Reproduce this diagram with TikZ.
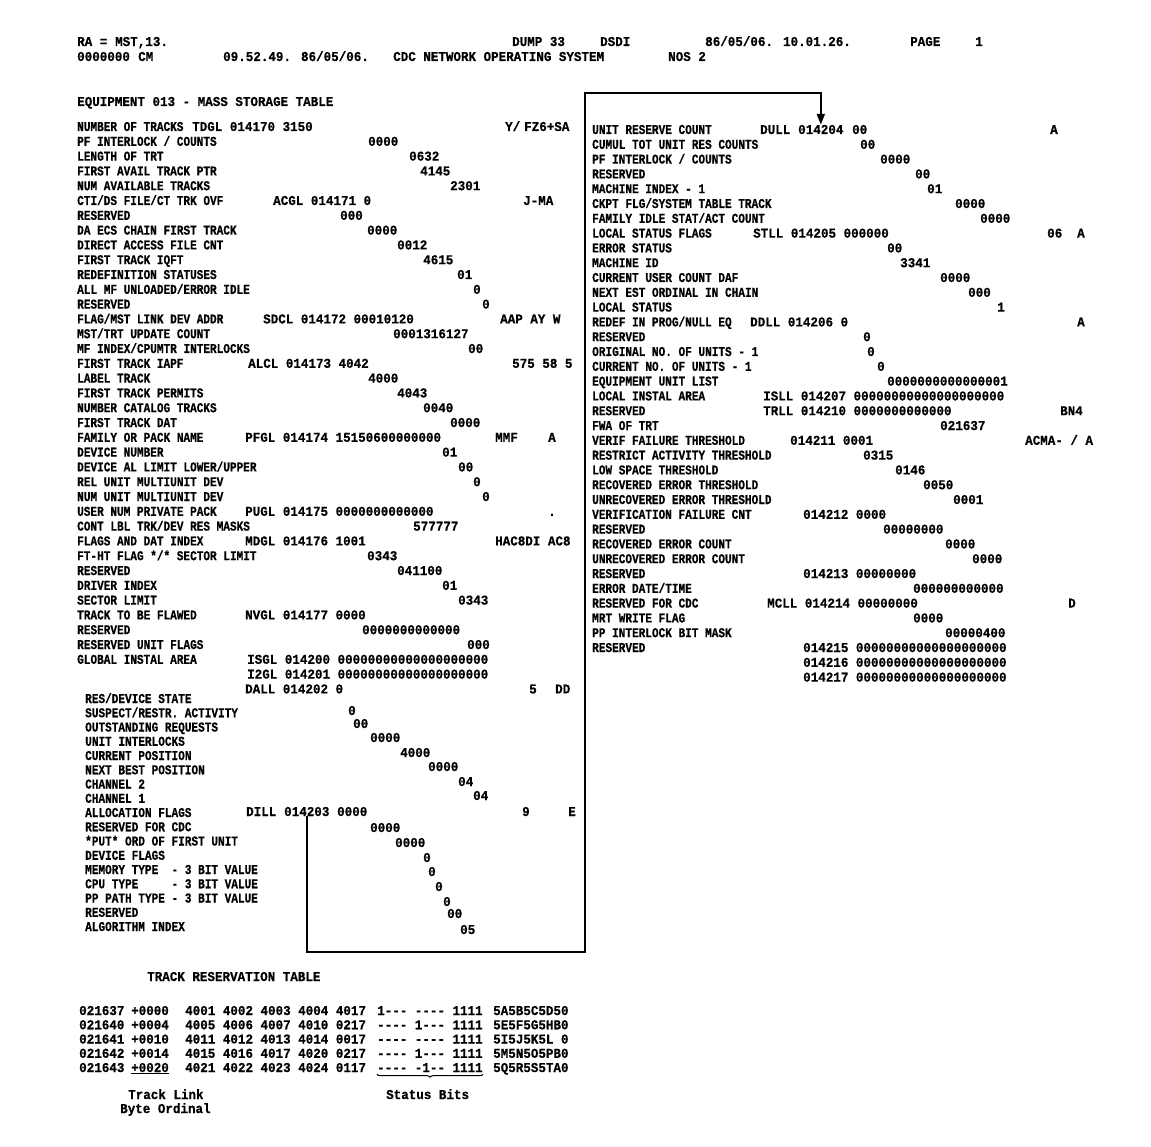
\documentclass[tikz,border=0pt]{standalone}
\usepackage{fontspec}
\usetikzlibrary{arrows.meta,decorations.pathreplacing}
\newfontfamily\lblfont{Liberation Mono}[FakeStretch=0.82, BoldFeatures={FakeBold=0.6}]
\newfontfamily\valfont{Liberation Mono}[FakeStretch=0.93, BoldFeatures={FakeBold=0.6}]
\tikzset{
    lbl/.style={font=\lblfont\bfseries\fontsize{13.5}{14}\selectfont, inner sep=0pt, anchor=base west},
    val/.style={font=\valfont\bfseries\fontsize{13.5}{14}\selectfont, inner sep=0pt, anchor=base west},
    link/.style={line width=2pt, -{Triangle[width=8pt,length=11pt]}},
}

\begin{document}
\begin{tikzpicture}[x=1pt,y=-1pt]
    \useasboundingbox (0,0) rectangle (1151,1147);
    \node[val] (hdra) at (77,46) {RA =};
    \node[val] (hdrb) at (115,46) {MST,13.};
    \node[val] (hdrc) at (512,46) {DUMP 33};
    \node[val] (hdrd) at (600,46) {DSDI};
    \node[val] (hdre) at (705,46) {86/05/06. 10.01.26.};
    \node[val] (hdrf) at (910,46) {PAGE};
    \node[val] (hdrg) at (975,46) {1};
    \node[val] (hdrh) at (77,61) {0000000};
    \node[val] (hdri) at (138,61) {CM};
    \node[val] (hdrj) at (223,61) {09.52.49. 86/05/06.};
    \node[val] (hdrk) at (393,61) {CDC NETWORK OPERATING SYSTEM};
    \node[val] (hdrl) at (668,61) {NOS 2};
    \node[val] (title) at (77,106) {EQUIPMENT 013 - MASS STORAGE TABLE};

    \foreach \lab [count=\i] in {NUMBER OF TRACKS, PF INTERLOCK / COUNTS, LENGTH OF TRT,
        FIRST AVAIL TRACK PTR, NUM AVAILABLE TRACKS, CTI/DS FILE/CT TRK OVF, RESERVED,
        DA ECS CHAIN FIRST TRACK, DIRECT ACCESS FILE CNT, FIRST TRACK IQFT,
        REDEFINITION STATUSES, ALL MF UNLOADED/ERROR IDLE, RESERVED, FLAG/MST LINK DEV ADDR,
        MST/TRT UPDATE COUNT, MF INDEX/CPUMTR INTERLOCKS, FIRST TRACK IAPF, LABEL TRACK,
        FIRST TRACK PERMITS, NUMBER CATALOG TRACKS, FIRST TRACK DAT, FAMILY OR PACK NAME,
        DEVICE NUMBER, DEVICE AL LIMIT LOWER/UPPER, REL UNIT MULTIUNIT DEV,
        NUM UNIT MULTIUNIT DEV, USER NUM PRIVATE PACK, CONT LBL TRK/DEV RES MASKS,
        FLAGS AND DAT INDEX, FT-HT FLAG */* SECTOR LIMIT, RESERVED, DRIVER INDEX,
        SECTOR LIMIT, TRACK TO BE FLAWED, RESERVED, RESERVED UNIT FLAGS, GLOBAL INSTAL AREA}
        \node[lbl] (ll\i) at (77,{131+14.8*(\i-1)}) {\lab};

    \node[val] (lvyslash) at (505,131) {Y/};
    \foreach \x/\r/\t [count=\k] in {192/1/TDGL 014170 3150, 524/1/FZ6+SA, 368/2/0000,
        409/3/0632, 420/4/4145, 450/5/2301, 273/6/ACGL 014171 0, 523/6/J-MA, 340/7/000,
        367/8/0000, 397/9/0012, 423/10/4615, 457/11/01, 473/12/0, 482/13/0,
        263/14/SDCL 014172 00010120, 500/14/AAP AY W, 393/15/0001316127, 468/16/00,
        248/17/ALCL 014173 4042, 512/17/575 58 5, 368/18/4000, 397/19/4043, 423/20/0040,
        450/21/0000, 245/22/PFGL 014174 15150600000000, 495/22/MMF, 548/22/A, 442/23/01,
        458/24/00, 473/25/0, 482/26/0, 245/27/PUGL 014175 0000000000000, 548/27/.,
        413/28/577777, 245/29/MDGL 014176 1001, 495/29/HAC8DI AC8, 367/30/0343,
        397/31/041100, 442/32/01, 458/33/0343, 245/34/NVGL 014177 0000,
        362/35/0000000000000, 467/36/000, 247/37/ISGL 014200 00000000000000000000,
        247/38/I2GL 014201 00000000000000000000, 245/39/DALL 014202 0, 529/39/5, 555/39/DD}
        \node[val] (lv\k) at (\x,{131+14.8*(\r-1)}) {\t};

    \foreach \lab [count=\j] in {RES/DEVICE STATE, SUSPECT/RESTR. ACTIVITY,
        OUTSTANDING REQUESTS, UNIT INTERLOCKS, CURRENT POSITION, NEXT BEST POSITION,
        CHANNEL 2, CHANNEL 1, ALLOCATION FLAGS, RESERVED FOR CDC, *PUT* ORD OF FIRST UNIT,
        DEVICE FLAGS, MEMORY TYPE\ \ - 3 BIT VALUE, CPU TYPE\ \ \ \ \ - 3 BIT VALUE,
        PP PATH TYPE - 3 BIT VALUE, RESERVED, ALGORITHM INDEX}
        \node[lbl] (sl\j) at (85,{703+14.25*(\j-1)}) {\lab};

    \node[val] (dill) at (246,816) {DILL};
    \node[val] (a014203) at (284,816) {014203};
    \foreach \x/\y/\t [count=\k] in {348/715/0, 353/728/00, 370/742/0000, 400/757/4000,
        428/771/0000, 458/786/04, 473/800/04, 337/816/0000, 522/816/9, 568/816/E,
        370/832/0000, 395/847/0000, 423/862/0, 428/876/0, 435/891/0, 443/906/0,
        447/918/00, 460/934/05}
        \node[val] (sv\k) at (\x,\y) {\t};

    \foreach \lab [count=\i] in {UNIT RESERVE COUNT, CUMUL TOT UNIT RES COUNTS,
        PF INTERLOCK / COUNTS, RESERVED, MACHINE INDEX - 1, CKPT FLG/SYSTEM TABLE TRACK,
        FAMILY IDLE STAT/ACT COUNT, LOCAL STATUS FLAGS, ERROR STATUS, MACHINE ID,
        CURRENT USER COUNT DAF, NEXT EST ORDINAL IN CHAIN, LOCAL STATUS,
        REDEF IN PROG/NULL EQ, RESERVED, ORIGINAL NO. OF UNITS - 1,
        CURRENT NO. OF UNITS - 1, EQUIPMENT UNIT LIST, LOCAL INSTAL AREA, RESERVED,
        FWA OF TRT, VERIF FAILURE THRESHOLD, RESTRICT ACTIVITY THRESHOLD,
        LOW SPACE THRESHOLD, RECOVERED ERROR THRESHOLD, UNRECOVERED ERROR THRESHOLD,
        VERIFICATION FAILURE CNT, RESERVED, RECOVERED ERROR COUNT, UNRECOVERED ERROR COUNT,
        RESERVED, ERROR DATE/TIME, RESERVED FOR CDC, MRT WRITE FLAG, PP INTERLOCK BIT MASK,
        RESERVED}
        \node[lbl] (rl\i) at (592,{134+14.8*(\i-1)}) {\lab};

    \node[val] (dull) at (760,134) {DULL};
    \node[val] (a014204) at (798,134) {014204};
    \node[val] (rvacma) at (1025,{134+14.8*21}) {ACMA- / A};
    \foreach \x/\r/\t [count=\k] in {852/1/00, 1050/1/A, 860/2/00, 880/3/0000, 915/4/00,
        927/5/01, 955/6/0000, 980/7/0000, 753/8/STLL 014205 000000, 1047/8/06, 1077/8/A,
        887/9/00, 900/10/3341, 940/11/0000, 968/12/000, 997/13/1, 750/14/DDLL 014206 0,
        1077/14/A, 863/15/0, 867/16/0, 877/17/0, 887/18/0000000000000001,
        763/19/ISLL 014207 00000000000000000000, 763/20/TRLL 014210 0000000000000,
        1060/20/BN4, 940/21/021637, 790/22/014211 0001, 863/23/0315, 895/24/0146,
        923/25/0050, 953/26/0001, 803/27/014212 0000, 883/28/00000000, 945/29/0000,
        972/30/0000, 803/31/014213 00000000, 913/32/000000000000,
        767/33/MCLL 014214 00000000, 1068/33/D, 913/34/0000, 945/35/00000400,
        803/36/014215 00000000000000000000, 803/37/014216 00000000000000000000,
        803/38/014217 00000000000000000000}
        \node[val] (rv\k) at (\x,{134+14.8*(\r-1)}) {\t};

    \coordinate (lowturn) at (585,952);
    \coordinate (highturn) at (585,93);
    \draw[link] (a014203.south) |- (lowturn) -- (highturn) -| (a014204.north);

    \node[val] (trtitle) at (147,981) {TRACK RESERVATION TABLE};
    \foreach \a/\l/\t/\s/\b [count=\k] in {021637/+0000/4001 4002 4003 4004 4017/1--- ---- 1111/5A5B5C5D50,
        021640/+0004/4005 4006 4007 4010 0217/---- 1--- 1111/5E5F5G5HB0,
        021641/+0010/4011 4012 4013 4014 0017/---- ---- 1111/5I5J5K5L 0,
        021642/+0014/4015 4016 4017 4020 0217/---- 1--- 1111/5M5N5O5PB0,
        021643/+0020/4021 4022 4023 4024 0117/---- -1-- 1111/5Q5R5S5TA0}
    {
        \node[val] (adr\k) at (79,{1015+14.25*(\k-1)}) {\a};
        \node[val] (lnk\k) at (131,{1015+14.25*(\k-1)}) {\l};
        \node[val] (trk\k) at (185,{1015+14.25*(\k-1)}) {\t};
        \node[val] (st\k) at (377,{1015+14.25*(\k-1)}) {\s};
        \node[val] (byt\k) at (493,{1015+14.25*(\k-1)}) {\b};
    }
    \draw[line width=1.2pt] ([yshift=-1.5pt]lnk5.south west) -- ([yshift=-1.5pt]lnk5.south east);
    \draw[line width=1pt, decorate, decoration={brace, mirror, amplitude=3pt}]
        ([yshift=-2pt]st5.south west) -- ([yshift=-2pt]st5.south east);
    \node[val] (tlink) at (128,1099) {Track Link};
    \node[val] (bord) at (120,1113) {Byte Ordinal};
    \node[val] (sbits) at (386,1099) {Status Bits};
\end{tikzpicture}
\end{document}
